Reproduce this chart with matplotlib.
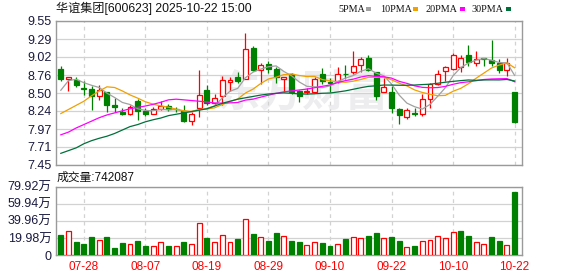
import matplotlib
matplotlib.use('Agg')
import matplotlib.pyplot as plt
import numpy as np

# ---------------- data ----------------
title_text = '华谊集团[600623] 2025-10-22 15:00'
volume_title = '成交量:742087'

opens = [8.85, 8.71, 8.69, 8.58, 8.56, 8.45, 8.51, 8.33, 8.23, 8.20,
         8.39, 8.24, 8.19, 8.26, 8.31, 8.27, 8.24, 8.09, 8.28, 8.54,
         8.36, 8.45, 8.66, 8.73, 8.71, 9.16, 8.84, 8.93, 8.85, 8.70,
         8.77, 8.53, 8.52, 8.52, 8.78, 8.66, 8.67, 8.78, 8.80, 8.91,
         9.01, 8.80, 8.52, 8.515, 8.265, 8.145, 8.21, 8.20, 8.41, 8.63,
         8.825, 8.855, 8.875, 9.06, 8.94, 9.005, 8.975, 8.94, 8.83, 8.515]
highs = [8.89, 8.74, 8.73, 8.675, 8.60, 8.61, 8.52, 8.42, 8.28, 8.32,
         8.41, 8.28, 8.29, 8.38, 8.34, 8.29, 8.33, 8.22, 8.835, 8.61,
         8.485, 8.75, 8.74, 8.81, 9.38, 9.18, 8.94, 8.96, 8.875, 8.735,
         8.79, 8.545, 8.58, 8.73, 8.86, 8.725, 8.885, 8.915, 9.11, 9.02,
         9.055, 8.81, 8.715, 8.595, 8.275, 8.275, 8.285, 8.48, 8.64, 8.835,
         8.895, 9.08, 9.06, 9.20, 9.11, 9.01, 9.275, 8.99, 9.005, 8.52]
lows = [8.675, 8.53, 8.59, 8.47, 8.25, 8.40, 8.23, 8.23, 8.18, 8.18,
        8.11, 8.17, 8.19, 8.25, 8.24, 8.23, 8.08, 8.04, 8.155, 8.32,
        8.325, 8.325, 8.53, 8.64, 8.70, 8.825, 8.63, 8.79, 8.64, 8.52,
        8.485, 8.375, 8.485, 8.50, 8.635, 8.51, 8.64, 8.70, 8.77, 8.80,
        8.825, 8.40, 8.51, 8.21, 8.05, 8.12, 8.17, 8.16, 8.275, 8.62,
        8.675, 8.84, 8.80, 8.89, 8.89, 8.89, 8.90, 8.79, 8.755, 8.06]
closes = [8.71, 8.73, 8.61, 8.56, 8.45, 8.55, 8.32, 8.29, 8.20, 8.30,
          8.24, 8.20, 8.26, 8.31, 8.26, 8.26, 8.09, 8.20, 8.47, 8.36,
          8.43, 8.685, 8.685, 8.675, 9.14, 8.835, 8.91, 8.855, 8.735, 8.735,
          8.52, 8.46, 8.535, 8.70, 8.675, 8.65, 8.78, 8.775, 8.89, 8.99,
          8.835, 8.455, 8.585, 8.285, 8.185, 8.25, 8.195, 8.41, 8.625, 8.78,
          8.88, 9.06, 9.01, 8.955, 8.99, 8.995, 8.94, 8.84, 8.94, 8.07]
volumes = [23.4, 28.0, 15.2, 12.9, 21.0, 17.5, 21.0, 8.2, 14.0, 12.9,
           16.4, 10.5, 10.5, 15.2, 10.5, 10.5, 15.2, 12.9, 37.4, 19.9,
           15.2, 23.0, 15.2, 18.7, 42.1, 24.6, 20.7, 16.4, 25.7, 22.2,
           16.4, 15.2, 11.7, 15.2, 14.0, 10.5, 12.9, 18.7, 21.0, 19.9,
           22.2, 25.7, 19.9, 21.0, 16.4, 9.4, 10.5, 16.4, 17.5, 22.2,
           19.9, 26.9, 28.0, 22.2, 15.2, 12.9, 21.0, 16.4, 11.7, 74.2]

# moving-average values before a full window is available
ma5_head = [8.54, 8.68, 8.70, 8.65]
ma10_head = [8.20, 8.26, 8.32, 8.38, 8.46, 8.53, 8.59, 8.58, 8.53]
ma20_head = [7.89, 7.93, 7.99, 8.04, 8.09, 8.14, 8.18, 8.21, 8.24, 8.27,
             8.29, 8.31, 8.335, 8.365, 8.40, 8.41, 8.40, 8.39, 8.38]
ma30_head = [7.62, 7.66, 7.70, 7.76, 7.805, 7.84, 7.87, 7.91, 7.96, 8.01,
             8.04, 8.08, 8.11, 8.135, 8.17, 8.19, 8.21, 8.23, 8.25, 8.27,
             8.31, 8.35, 8.38, 8.41, 8.43, 8.45, 8.47, 8.485, 8.495]

date_labels = ['07-28', '08-07', '08-19', '08-29', '09-10', '09-22', '10-10', '10-22']
date_idx = [3, 11, 19, 27, 35, 43, 51, 59]
price_ticks = [9.55, 9.2875, 9.025, 8.7625, 8.5, 8.2375, 7.975, 7.7125, 7.45]
price_labels = ['9.55', '9.29', '9.02', '8.76', '8.50', '8.24', '7.97', '7.71', '7.45']
vol_ticks = [0, 19.98, 39.96, 59.94, 79.92]
vol_labels = ['0', '19.98万', '39.96万', '59.94万', '79.92万']
ma_names = ['5PMA', '10PMA', '20PMA', '30PMA']
watermark = '东方财富'

# ---------------- helpers ----------------
def moving_average(vals, n, head):
    out = list(head)
    for i in range(n - 1, len(vals)):
        out.append(float(np.mean(vals[i - n + 1:i + 1])))
    return out

RED = '#ff0000'
GREEN = '#008000'
MA_COLORS = ['#a0a0a0', '#f0a000', '#ff00ff', '#00703a']
GRID = '#d2d2d2'
FRAME = '#9a9a9a'
LABEL = '#1a1a40'
SANS = ['Liberation Sans', 'Noto Sans CJK SC']

W, H = 578, 276
fig = plt.figure(figsize=(W / 100, H / 100), dpi=100)
fig.patch.set_facecolor('white')

left, right = 55.5, 522.3
ax = fig.add_axes([left / W, (H - 165) / H, (right - left) / W, 144 / H])
axv = fig.add_axes([left / W, (H - 255) / H, (right - left) / W, (255 - 186.7) / H])

x = np.arange(len(closes))
xlim = (-0.69, 60.0)

# ---------------- price panel ----------------
for i in range(len(closes)):
    o, c, h, l = opens[i], closes[i], highs[i], lows[i]
    up = c >= o
    col = RED if up else GREEN
    ax.vlines(i, l, h, color=col, lw=0.9, zorder=3)
    bottom = min(o, c)
    height = max(abs(c - o), 0.004)
    ax.bar(i, height, bottom=bottom, width=0.64,
           facecolor='white' if up else GREEN, edgecolor=col,
           linewidth=0.9, zorder=4)

mas = [moving_average(closes, 5, ma5_head), moving_average(closes, 10, ma10_head),
       moving_average(closes, 20, ma20_head), moving_average(closes, 30, ma30_head)]
for vals, colr in zip(mas, MA_COLORS):
    ax.plot(x, vals, color=colr, lw=0.9, zorder=5)

ax.set_xlim(*xlim)
ax.set_ylim(7.45, 9.55)
ax.set_yticks(price_ticks)
ax.set_yticklabels(price_labels)
ax.set_xticks(date_idx)
ax.set_xticklabels([])
ax.grid(axis='y', color=GRID, lw=0.9, ls='-', zorder=0)
ax.grid(axis='x', color=GRID, lw=0.9, ls=(0, (3, 3)), zorder=0)
ax.text(0.53, 0.50, watermark, transform=ax.transAxes, ha='center', va='center',
        fontsize=31, color='#ededf0', family=['Noto Sans CJK SC'],
        fontweight='bold', zorder=1)

# ---------------- volume panel ----------------
for i in range(len(volumes)):
    prev = closes[i - 1] if i > 0 else opens[i]
    up = closes[i] >= prev
    col = RED if up else GREEN
    axv.bar(i, volumes[i], width=0.64, facecolor='white' if up else GREEN,
            edgecolor=col, linewidth=0.9, zorder=3)
axv.set_xlim(*xlim)
axv.set_ylim(0, 79.92)
axv.set_yticks(vol_ticks)
axv.set_yticklabels(vol_labels)
axv.set_xticks(date_idx)
axv.set_xticklabels(date_labels)
axv.grid(axis='y', color=GRID, lw=0.9, ls='-', zorder=0)
axv.grid(axis='x', color=GRID, lw=0.9, ls=(0, (3, 3)), zorder=0)

for a in (ax, axv):
    for s in a.spines.values():
        s.set_color(FRAME)
        s.set_linewidth(1.0)
    a.tick_params(axis='both', length=0, pad=3)
    for t in a.get_yticklabels():
        t.set_family(SANS)
        t.set_fontsize(9)
        t.set_color(LABEL)
for t in axv.get_xticklabels():
    t.set_family(SANS)
    t.set_fontsize(8.5)
    t.set_color(RED)
axv.tick_params(axis='x', pad=4)

# ---------------- texts ----------------
fig.text(56 / W, 1 - 8.5 / H, title_text, ha='left', va='center',
         fontsize=8.7, family=SANS, color='#111111')
fig.text(57 / W, 1 - 177.5 / H, volume_title, ha='left', va='center',
         fontsize=8.5, family=SANS, color='#111111')

leg_x = [338.3, 380.0, 425.7, 471.7]
sq_x = [365.5, 413.2, 460.2, 505.5]
for name, lx, sx, colr in zip(ma_names, leg_x, sq_x, MA_COLORS):
    fig.text(lx / W, 1 - 9 / H, name, ha='left', va='center', fontsize=7.3,
             family=['Liberation Serif'], color='#111111')
    fig.patches.append(plt.Rectangle((sx / W, 1 - 10.8 / H), 5 / W, 3.5 / H,
                                     transform=fig.transFigure, facecolor=colr,
                                     edgecolor='none'))

fig.savefig('out.png', dpi=100)
